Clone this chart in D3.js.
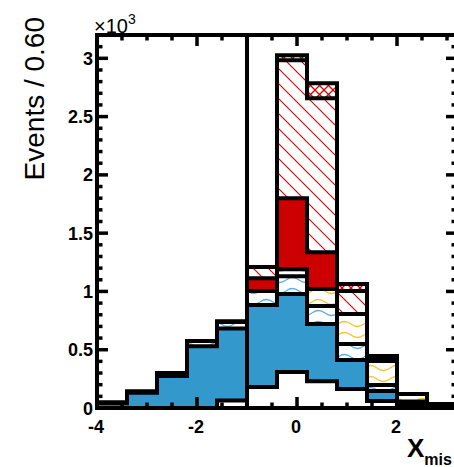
<!doctype html>
<html lang="en">
<head>
<meta charset="UTF-8">
<title>Events / 0.60</title>
<script src="https://cdn.jsdelivr.net/npm/d3@7"></script>
<style>
  body { margin: 0; background: #fff; }
  text { font-family: "Liberation Sans", Arial, Helvetica, sans-serif; }
</style>
</head>
<body>
<div id="chart-area"></div>
<script>
const chartW = 454;
const chartH = 467;

// bin edges (0.6 wide) and event counts per component, bottom of the stack first
const binEdges  = [-4.0, -3.4, -2.8, -2.2, -1.6, -1.0, -0.4, 0.2, 0.8, 1.4, 2.0, 2.6, 3.2];
const whiteVals = [0, 0, 0, 0, 65, 180, 309, 230, 163, 60, 20, 5];
const blueVals  = [40, 130, 275, 530, 616, 703, 668, 490, 248, 86, 20, 10];
const bWaveVals = [5, 10, 25, 45, 60, 120, 154, 154, 138, 51, 15, 5];
const yWaveVals = [0, 0, 0, 0, 0, 0, 60, 146, 257, 206, 65, 15];
const redVals   = [0, 0, 0, 0, 0, 111, 609, 317, 0, 7, 0, 0];
const hatchVals = [0, 0, 0, 0, 0, 95, 1183, 1320, 197, 15, 0, 0];
const crossVals = [0, 0, 0, 0, 0, 0, 43, 129, 60, 21, 0, 0];

const yTicks = [0, 500, 1000, 1500, 2000, 2500, 3000];
const yTickLabels = ['0', '0.5', '1', '1.5', '2', '2.5', '3'];
const xTicks = [-4, -2, 0, 2];
const xTickLabels = ['-4', '-2', '0', '2'];
const cutX = -1.0;

const keys = ['white', 'blue', 'bwave', 'ywave', 'red', 'hatch', 'cross'];
const fills = {
    white: '#ffffff',
    blue: '#3399cc',
    bwave: 'url(#bwave)',
    ywave: 'url(#ywave)',
    red: '#cc0000',
    hatch: 'url(#hatch)',
    cross: 'url(#cross)'
};

const table = whiteVals.map((v, i) => ({
    white: v, blue: blueVals[i], bwave: bWaveVals[i], ywave: yWaveVals[i],
    red: redVals[i], hatch: hatchVals[i], cross: crossVals[i]
}));

const svg = d3.select('#chart-area')
    .append('svg')
    .attr('width', chartW)
    .attr('height', chartH);

svg.append('rect').attr('width', chartW).attr('height', chartH).attr('fill', '#fff');

const x = d3.scaleLinear().domain([-4, 3.2]).range([97, 457]);
const y = d3.scaleLinear().domain([0, 3200]).range([408, 35]);

// fill patterns
const defs = svg.append('defs');

function wave(id, color) {
    const p = defs.append('pattern').attr('id', id)
        .attr('patternUnits', 'userSpaceOnUse').attr('width', 26).attr('height', 11);
    p.append('rect').attr('width', 26).attr('height', 11).attr('fill', '#fff');
    p.append('path').attr('d', 'M0,5 Q6.5,0 13,5 T26,5')
        .attr('fill', 'none').attr('stroke', color).attr('stroke-width', 1.3);
}
wave('bwave', '#5aaee0');
wave('ywave', '#f5c431');

const hp = defs.append('pattern').attr('id', 'hatch')
    .attr('patternUnits', 'userSpaceOnUse').attr('width', 15).attr('height', 15);
hp.append('rect').attr('width', 15).attr('height', 15).attr('fill', '#fff');
hp.append('path').attr('d', 'M0,0L15,15M-4,11L4,19M11,-4L19,4')
    .attr('stroke', '#dd0000').attr('stroke-width', 1.1);

const cp = defs.append('pattern').attr('id', 'cross')
    .attr('patternUnits', 'userSpaceOnUse').attr('width', 9).attr('height', 9);
cp.append('rect').attr('width', 9).attr('height', 9).attr('fill', '#fff');
cp.append('path').attr('d', 'M0,0L9,9M9,0L0,9')
    .attr('stroke', '#dd0000').attr('stroke-width', 1.3);

const series = d3.stack().keys(keys)(table);

// filled layers
series.forEach(s => {
    svg.append('g')
        .selectAll('rect')
        .data(s)
        .enter()
        .append('rect')
            .attr('x', (d, i) => x(binEdges[i]))
            .attr('width', (d, i) => x(binEdges[i + 1]) - x(binEdges[i]))
            .attr('y', d => y(d[1]))
            .attr('height', d => y(d[0]) - y(d[1]))
            .attr('fill', fills[s.key]);
});

// thick step outlines of each cumulative level
const step = d3.line()
    .x(d => x(d[0]))
    .y(d => y(d[1]))
    .curve(d3.curveStepAfter);

series.forEach(s => {
    const pts = binEdges.map((e, i) => [e, s[Math.min(i, s.length - 1)][1]]);
    svg.append('path')
        .attr('d', step(pts))
        .attr('fill', 'none')
        .attr('stroke', '#000')
        .attr('stroke-width', 4);
});

// cut line
svg.append('line')
    .attr('x1', x(cutX)).attr('x2', x(cutX))
    .attr('y1', y(3200)).attr('y2', y(0))
    .attr('stroke', '#000').attr('stroke-width', 4);

// frame and ticks
svg.append('rect')
    .attr('x', x(-4)).attr('y', y(3200))
    .attr('width', x(3.2) - x(-4)).attr('height', y(0) - y(3200))
    .attr('fill', 'none').attr('stroke', '#000').attr('stroke-width', 4);

const ticks = svg.append('g').attr('stroke', '#000').attr('stroke-width', 3.5);

d3.range(0, 3201, 100).forEach(v => {
    const len = v % 500 === 0 ? 11 : 5.5;
    ticks.append('line').attr('x1', x(-4)).attr('x2', x(-4) + len).attr('y1', y(v)).attr('y2', y(v));
    ticks.append('line').attr('x1', x(3.2)).attr('x2', x(3.2) - len).attr('y1', y(v)).attr('y2', y(v));
});
d3.range(-4, 3.21, 0.5).forEach(v => {
    const len = Math.abs(v % 2) < 1e-6 ? 11 : 5.5;
    ticks.append('line').attr('x1', x(v)).attr('x2', x(v)).attr('y1', y(0)).attr('y2', y(0) - len);
    ticks.append('line').attr('x1', x(v)).attr('x2', x(v)).attr('y1', y(3200)).attr('y2', y(3200) + len);
});

// tick labels
svg.append('g')
    .selectAll('text')
    .data(yTicks)
    .enter()
    .append('text')
        .attr('x', 93)
        .attr('y', d => y(d) + 6.5)
        .attr('text-anchor', 'end')
        .attr('font-size', 18)
        .attr('font-weight', 'bold')
        .text((d, i) => yTickLabels[i]);

svg.append('g')
    .selectAll('text')
    .data(xTicks)
    .enter()
    .append('text')
        .attr('x', d => x(d) - 1)
        .attr('y', 433)
        .attr('text-anchor', 'middle')
        .attr('font-size', 18)
        .attr('font-weight', 'bold')
        .text((d, i) => xTickLabels[i]);

// exponent
const expo = svg.append('text')
    .attr('x', 94).attr('y', 33)
    .attr('font-size', 20);
expo.append('tspan').text('\u00d710');
expo.append('tspan').attr('dy', -9).attr('font-size', 14).text('3');

// axis titles
svg.append('text')
    .attr('transform', 'translate(44,17) rotate(-90)')
    .attr('text-anchor', 'end')
    .attr('font-size', 28)
    .text('Events / 0.60');

const xt = svg.append('text')
    .attr('x', 407).attr('y', 457)
    .attr('font-size', 26)
    .attr('font-weight', 'bold');
xt.append('tspan').text('X');
xt.append('tspan').attr('dy', 8).attr('font-size', 16).text('mis');
</script>
</body>
</html>
